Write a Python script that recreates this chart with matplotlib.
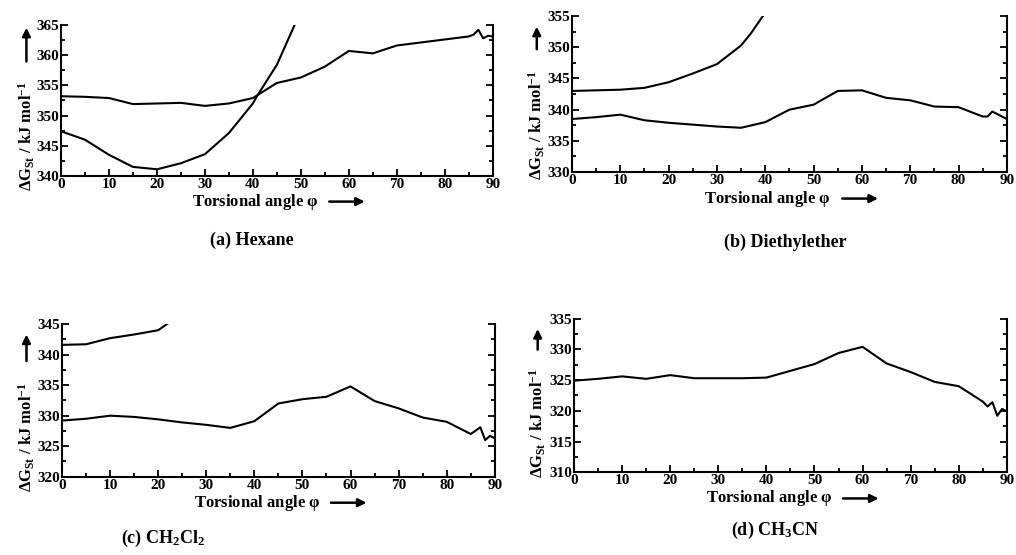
import matplotlib
matplotlib.use("Agg")
import matplotlib.pyplot as plt
from matplotlib.ticker import MultipleLocator

plt.rcParams['font.family'] = ['Liberation Serif', 'DejaVu Serif']
plt.rcParams['font.weight'] = 'bold'
plt.rcParams['mathtext.fontset'] = 'custom'
plt.rcParams['mathtext.rm'] = 'Liberation Serif:bold'
plt.rcParams['mathtext.it'] = 'Liberation Serif:bold'
plt.rcParams['mathtext.bf'] = 'Liberation Serif:bold'

# (a) Hexane
a_low_x = [0, 5, 10, 15, 20, 25, 30, 35, 40, 41, 45, 48.7]
a_low_y = [347.4, 346.0, 343.5, 341.5, 341.1, 342.1, 343.6, 347.1, 352.0, 353.4, 358.4, 365.0]
a_up_x = [0, 5, 10, 15, 20, 25, 30, 35, 40, 45, 50, 55, 60, 65, 70, 75, 80, 85, 86, 87, 88, 89, 90]
a_up_y = [353.2, 353.1, 352.9, 351.9, 352.0, 352.1, 351.6, 352.0, 352.9, 355.4, 356.3, 358.1,
          360.7, 360.3, 361.6, 362.1, 362.6, 363.1, 363.4, 364.2, 362.8, 363.2, 363.1]

# (b) Diethylether
b_up_x = [0, 10, 15, 20, 25, 30, 35, 37, 39.5]
b_up_y = [343.0, 343.2, 343.5, 344.4, 345.8, 347.3, 350.3, 352.2, 355.0]
b_low_x = [0, 5, 10, 15, 20, 25, 30, 35, 40, 45, 50, 55, 60, 65, 70, 75, 80, 85, 86, 87, 88, 90]
b_low_y = [338.5, 338.8, 339.2, 338.3, 337.9, 337.6, 337.3, 337.1, 338.0, 340.0, 340.8, 343.0,
           343.1, 341.9, 341.5, 340.5, 340.4, 338.9, 338.9, 339.7, 339.3, 338.5]

# (c) CH2Cl2
c_up_x = [0, 5, 10, 15, 20, 22]
c_up_y = [341.6, 341.7, 342.7, 343.3, 344.0, 345.1]
c_low_x = [0, 5, 10, 15, 20, 25, 30, 35, 40, 45, 50, 55, 60, 65, 70, 75, 80, 85, 87, 88, 89, 90]
c_low_y = [329.2, 329.5, 330.0, 329.8, 329.4, 328.9, 328.5, 328.0, 329.1, 332.0, 332.7, 333.1,
           334.8, 332.4, 331.2, 329.7, 329.0, 327.0, 328.1, 326.0, 326.7, 326.3]

# (d) CH3CN
d_x = [0, 5, 10, 15, 20, 25, 30, 35, 40, 45, 50, 55, 60, 65, 70, 75, 80, 85, 86, 87, 88, 89, 90]
d_y = [324.9, 325.2, 325.6, 325.2, 325.8, 325.3, 325.3, 325.3, 325.4, 326.5, 327.6, 329.4,
       330.4, 327.7, 326.3, 324.7, 324.0, 321.5, 320.7, 321.4, 319.2, 320.3, 319.9]

panels = [
    dict(rect=[0.060, 0.683, 0.425, 0.272], ylim=(340, 365),
         lines=[(a_low_x, a_low_y), (a_up_x, a_up_y)], caption='(a) Hexane', cap=(252, 240),
         ylab=(-0.080, -0.10), arrow=(0.74, 1.0)),
    dict(rect=[0.563, 0.690, 0.428, 0.281], ylim=(330, 355),
         lines=[(b_up_x, b_up_y), (b_low_x, b_low_y)], caption='(b) Diethylether', cap=(785, 242),
         ylab=(-0.081, -0.05), arrow=(0.77, 0.95)),
    dict(rect=[0.061, 0.141, 0.426, 0.275], ylim=(320, 345),
         lines=[(c_up_x, c_up_y), (c_low_x, c_low_y)], caption=r'(c) CH$_2$Cl$_2$', cap=(163, 538),
         ylab=(-0.082, -0.10), arrow=(0.74, 0.95)),
    dict(rect=[0.565, 0.149, 0.426, 0.277], ylim=(310, 335),
         lines=[(d_x, d_y)], caption=r'(d) CH$_3$CN', cap=(775, 530),
         ylab=(-0.084, -0.04), arrow=(0.78, 0.95)),
]

W, H = 1016, 555
fig = plt.figure(figsize=(W / 100, H / 100), dpi=100)

for p in panels:
    ax = fig.add_axes(p['rect'])
    for xs, ys in p['lines']:
        ax.plot(xs, ys, color='black', lw=1.5)
    ax.set_xlim(0, 90)
    ax.set_ylim(*p['ylim'])
    ax.xaxis.set_major_locator(MultipleLocator(10))
    ax.xaxis.set_minor_locator(MultipleLocator(5))
    ax.yaxis.set_major_locator(MultipleLocator(5))
    ax.yaxis.set_minor_locator(MultipleLocator(2.5))
    ax.spines['top'].set_visible(False)
    for s in ['left', 'right', 'bottom']:
        ax.spines[s].set_linewidth(1.5)
    ax.tick_params(which='both', direction='in', right=True, top=False, width=1.3)
    ax.tick_params(which='major', length=5, labelsize=11, pad=1.5)
    ax.tick_params(which='minor', length=3)
    for lab in ax.get_xticklabels() + ax.get_yticklabels():
        lab.set_fontweight('bold')

    # x label with arrow
    ax.text(0.45, -0.17, r'Torsional angle $\varphi$', transform=ax.transAxes,
            ha='center', va='center', fontsize=12, fontweight='bold')
    ax.annotate('', xy=(0.71, -0.17), xytext=(0.615, -0.17), xycoords='axes fraction',
                arrowprops=dict(arrowstyle='-|>', color='black', lw=1.8, mutation_scale=12),
                annotation_clip=False)

    # y label with arrow
    lx, ly = p['ylab']
    ax.text(lx, ly, r'$\Delta$G$_{St}$ / kJ mol$^{-1}$', transform=ax.transAxes,
            rotation=90, ha='center', va='bottom', fontsize=12, fontweight='bold')
    ax.annotate('', xy=(lx, p['arrow'][1]), xytext=(lx, p['arrow'][0]), xycoords='axes fraction',
                arrowprops=dict(arrowstyle='-|>', color='black', lw=1.8, mutation_scale=12),
                annotation_clip=False)

    fig.text(p['cap'][0] / W, 1 - p['cap'][1] / H, p['caption'], ha='center', va='center',
             fontsize=13, fontweight='bold')

fig.savefig('out.png', dpi=100)
